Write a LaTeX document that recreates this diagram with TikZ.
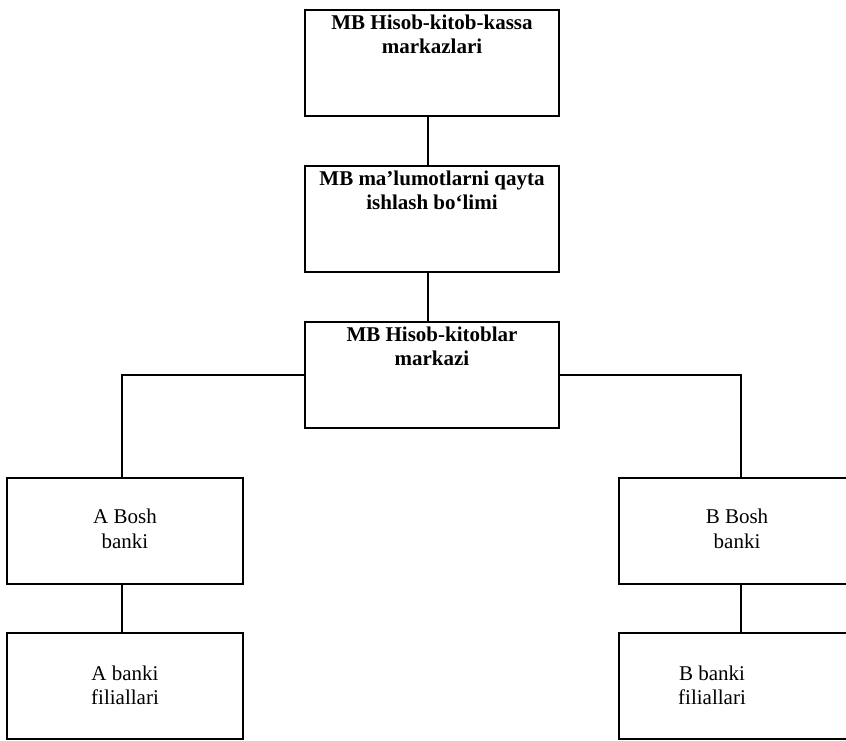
\documentclass[tikz,border=0pt]{standalone}
\usepackage{fontspec}
\setmainfont{Liberation Serif}
\begin{document}
\begin{tikzpicture}[x=1pt, y=-1pt,
  box/.style={draw, line width=2pt, minimum width=254pt, minimum height=106pt, inner sep=0pt},
  sidebox/.style={box, minimum width=236pt},
  link/.style={line width=2pt},
  headtxt/.style={font=\fontsize{21}{24.5}\selectfont\bfseries, align=center, inner sep=0pt, anchor=north},
  banktxt/.style={font=\fontsize{21}{24.5}\selectfont, align=center, inner sep=0pt, anchor=north}]
  \useasboundingbox (0,0) rectangle (846,740);
  \clip (0,0) rectangle (846,740);
  \fill[white] (0,0) rectangle (846,740);

  % central chain
  \node[box] (b1) at (432,63) {};
  \node[box] (b2) at (432,219) {};
  \node[box] (b3) at (432,375) {};
  % bank branches
  \node[sidebox] (a1) at (125,531) {};
  \node[sidebox] (a2) at (125,686) {};
  \node[sidebox] (c1) at (737,531) {};
  \node[sidebox] (c2) at (737,686) {};

  % labels
  \node[headtxt, yshift=-5.7pt] (t1) at (b1.north) {MB Hisob-kitob-kassa\\markazlari};
  \node[headtxt, yshift=-5.7pt] (t2) at (b2.north) {MB ma’lumotlarni qayta\\ishlash bo‘limi};
  \node[headtxt, yshift=-5.7pt] (t3) at (b3.north) {MB Hisob-kitoblar\\markazi};
  \node[banktxt, yshift=-32pt] (ta1) at (a1.north) {A Bosh\\banki};
  \node[banktxt, yshift=-33.5pt] (ta2) at (a2.north) {A banki\\filiallari};
  \node[banktxt, yshift=-32pt] (tc1) at (c1.north) {B Bosh\\banki};
  \node[banktxt, yshift=-33.5pt, xshift=-25pt] (tc2) at (c2.north) {B banki\\filiallari};

  % connectors
  \draw[link] ([xshift=-4pt]b1.south) -- ([xshift=-4pt]b2.north);
  \draw[link] ([xshift=-4pt]b2.south) -- ([xshift=-4pt]b3.north);
  \draw[link] (b3.west) -| ([xshift=-3pt]a1.north);
  \draw[link] (b3.east) -| ([xshift=4pt]c1.north);
  \draw[link] ([xshift=-3pt]a1.south) -- ([xshift=-3pt]a2.north);
  \draw[link] ([xshift=4pt]c1.south) -- ([xshift=4pt]c2.north);
\end{tikzpicture}
\end{document}
